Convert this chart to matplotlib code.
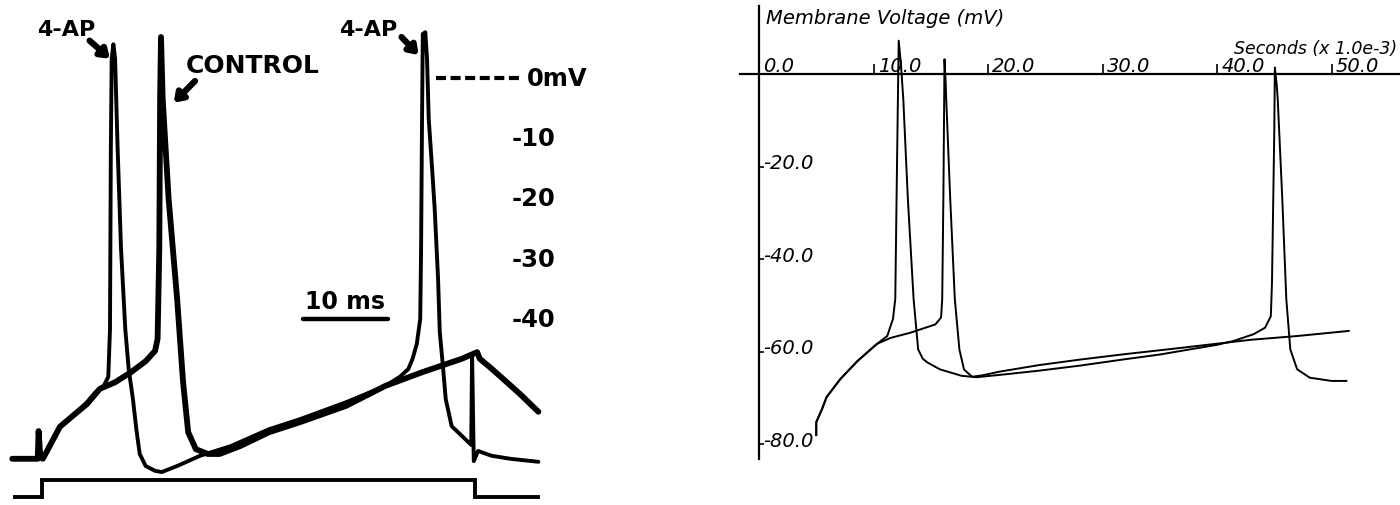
import matplotlib
matplotlib.use("Agg")
import matplotlib.pyplot as plt

# ---------------- Left panel: recorded traces (ms, mV) ----------------
ctrl_t = [-3.5, -0.5, -0.4, -0.2, 0.1, 0.9, 2.1, 3.6, 5.3, 6.8, 8.6, 10.5, 12.2, 13.3, 13.6,
          13.8, 13.9, 14.0, 14.2, 14.9, 15.9, 16.6, 17.2, 18.1, 19.5, 20.9, 23.3, 26.7, 30.4,
          35.8, 40.4, 44.8, 49.4, 51.2, 51.5, 52.7, 53.9, 56.2, 58.4]
ctrl_v = [-63.2, -63.2, -58.6, -62.9, -63.2, -61.1, -57.9, -56.1, -54.1, -51.6, -50.5, -48.8,
          -47.0, -45.3, -43.3, -28.4, -3.5, 6.8, -3.5, -20.1, -36.7, -50.5, -58.8, -61.6, -62.4,
          -62.4, -61.1, -58.8, -57.1, -54.4, -51.1, -48.8, -46.6, -45.5, -46.6, -48.0, -49.5,
          -52.4, -55.4]

ap_t = [-3.5, -0.5, -0.4, -0.2, 0.1, 0.9, 2.1, 3.6, 5.3, 6.2, 7.3, 7.8, 8.0, 8.1, 8.2, 8.4,
        8.6, 8.9, 9.3, 9.8, 10.2, 10.7, 11.1, 11.5, 12.2, 13.3, 14.1, 15.9, 18.6, 22.2, 26.7,
        30.4, 35.8, 40.4, 42.1, 43.1, 43.6, 44.1, 44.5, 44.6, 44.7, 44.8, 45.1, 45.3, 45.5,
        45.9, 46.2, 46.6, 46.8, 47.2, 47.5, 48.2, 49.4, 50.5, 50.6, 50.8, 51.3, 52.9, 55.1, 58.4]
ap_v = [-63.2, -63.2, -58.6, -62.9, -63.2, -61.1, -57.9, -56.1, -53.8, -52.3, -51.0, -49.6,
        -41.7, -11.8, 3.2, 5.6, 3.2, -11.8, -28.4, -41.7, -48.3, -53.3, -58.3, -62.4, -64.4,
        -65.2, -65.4, -64.4, -62.7, -61.1, -58.3, -56.6, -53.8, -51.1, -49.6, -48.3, -46.6,
        -44.1, -40.0, -28.4, -9.0, 7.3, 7.6, 3.2, -6.8, -15.1, -21.7, -33.4, -42.2, -48.3,
        -53.3, -57.8, -59.4, -60.9, -45.8, -63.6, -61.9, -62.7, -63.2, -63.7]

stim_t = [-3.2, 0.0, 0.0, 51.0, 51.0, 58.4]
stim_v = [-69.6, -69.6, -66.8, -66.8, -69.6, -69.6]

volt_labels = [-10, -20, -30, -40]
scale_bar = [30.7, 40.7]   # 10 ms

# ---------------- Right panel: simulation (ms, mV) ----------------
sim_ap_t = [5.0, 5.0, 5.5, 5.9, 7.1, 8.6, 10.3, 11.2, 11.7, 11.9, 12.05, 12.2, 12.4, 12.6,
            13.0, 13.5, 13.9, 14.3, 14.7, 15.8, 17.7, 19.0, 21.0, 24.4, 28.0, 32.0, 35.0,
            37.6, 40.0, 41.4, 43.2, 44.2, 44.7, 44.8, 45.0, 45.05, 45.2, 45.3, 45.7, 46.05,
            46.4, 47.0, 48.1, 50.0, 51.3]
sim_ap_v = [-78.0, -75.2, -72.4, -69.8, -65.9, -62.0, -58.3, -56.6, -52.9, -48.6, -20.0, 7.2,
            2.0, -5.4, -27.0, -48.6, -59.5, -61.5, -62.3, -63.8, -65.2, -65.5, -65.0, -64.1,
            -63.0, -61.6, -60.6, -59.5, -58.5, -57.7, -56.2, -54.8, -52.3, -45.0, -12.6, 1.4,
            -2.0, -5.4, -27.0, -48.6, -59.5, -63.8, -65.6, -66.3, -66.3]

sim_ctrl_t = [5.0, 5.0, 5.5, 5.9, 7.1, 8.6, 10.3, 11.5, 13.2, 15.4, 15.9, 16.0, 16.1, 16.2,
              16.3, 16.35, 16.7, 17.1, 17.5, 17.9, 18.6, 19.5, 21.0, 24.4, 28.0, 32.0, 36.0,
              39.5, 43.0, 47.0, 51.5]
sim_ctrl_v = [-78.0, -75.2, -72.4, -69.8, -65.9, -62.0, -58.3, -57.0, -55.9, -54.1, -52.6,
              -48.6, -27.0, 3.2, -1.8, -5.4, -27.0, -48.6, -59.5, -63.8, -65.4, -65.1, -64.3,
              -62.9, -61.7, -60.5, -59.4, -58.4, -57.4, -56.6, -55.5]

sim_xticks = [0, 10, 20, 30, 40, 50]
sim_yticks = [-20, -40, -60, -80]

# ---------------- Figure ----------------
fig = plt.figure(figsize=(14, 5.06), dpi=100)
fig.patch.set_facecolor("white")

axL = fig.add_axes([0, 0, 600 / 1400, 1])
axL.set_xlim(-4.94, 65.65)
axL.set_ylim(-70.87, 13.11)
axL.axis("off")

kw = dict(color="black", solid_joinstyle="round", solid_capstyle="round")
axL.plot(ctrl_t, ctrl_v, lw=4.2, **kw)
axL.plot(ap_t, ap_v, lw=2.8, **kw)
axL.plot(stim_t, stim_v, lw=2.8, color="black", solid_joinstyle="miter")

bold = dict(fontfamily="DejaVu Sans", fontweight="bold", color="black")
axL.text(2.8, 8.1, "4-AP", ha="center", va="center", fontsize=16, **bold)
axL.text(38.4, 8.1, "4-AP", ha="center", va="center", fontsize=16, **bold)
axL.text(24.8, 2.2, "CONTROL", ha="center", va="center", fontsize=18, **bold)

arrow = dict(arrowstyle="-|>,head_length=0.5,head_width=0.35", lw=4.5, color="black",
             shrinkA=0, shrinkB=0)
axL.annotate("", xy=(8.0, 3.2), xytext=(5.6, 6.2), arrowprops=arrow)
axL.annotate("", xy=(44.3, 3.8), xytext=(42.3, 6.8), arrowprops=arrow)
axL.annotate("", xy=(15.5, -4.1), xytext=(18.0, -0.5), arrowprops=arrow)

axL.plot([46.4, 56.2], [0, 0], color="black", lw=3, ls=(0, (2.4, 1.1)))
axL.text(57.1, 0, "0mV", ha="left", va="center", fontsize=17.5, **bold)
for v in volt_labels:
    axL.text(55.3, v, f"-{abs(v)}", ha="left", va="center", fontsize=17.5, **bold)

axL.plot(scale_bar, [-40, -40], color="black", lw=3.2, solid_capstyle="round")
axL.text(sum(scale_bar) / 2, -37.0, "10 ms", ha="center", va="center", fontsize=17, **bold)

# ---------------- Right panel ----------------
axR = fig.add_axes([740 / 1400, 0, 660 / 1400, 1])
axR.set_xlim(-1.66, 55.98)
axR.set_ylim(-93.1, 16.2)
axR.set_facecolor("none")
for s in ("top", "right"):
    axR.spines[s].set_visible(False)
axR.spines["left"].set_position(("data", 0))
axR.spines["left"].set_bounds(-83.2, 14.7)
axR.spines["bottom"].set_position(("data", 0))
for s in ("left", "bottom"):
    axR.spines[s].set_linewidth(1.6)

axR.set_xticks(sim_xticks)
axR.set_yticks(sim_yticks)
axR.tick_params(axis="x", direction="in", length=7, width=1.2, labelbottom=False)
axR.tick_params(axis="y", direction="in", length=3.5, width=1.2, labelleft=False)

axR.plot(sim_ap_t, sim_ap_v, color="black", lw=1.4, solid_joinstyle="round")
axR.plot(sim_ctrl_t, sim_ctrl_v, color="black", lw=1.4, solid_joinstyle="round")

it = dict(fontfamily="DejaVu Sans", style="italic", color="black", fontsize=14)
for t in sim_xticks:
    axR.annotate(f"{t:.1f}", (t, 0), xytext=(3, 2.5), textcoords="offset points",
                 ha="left", va="baseline", **it)
for v in sim_yticks:
    axR.annotate(f"-{abs(v):.1f}", (0, v), xytext=(3, -1), textcoords="offset points",
                 ha="left", va="baseline", **it)

axR.text(0.6, 12.3, "Membrane Voltage (mV)", ha="left", va="center", **it)
axR.text(55.7, 5.6, "Seconds (x 1.0e-3)", ha="right", va="center",
         fontfamily="DejaVu Sans", style="italic", color="black", fontsize=12.5)

fig.savefig("out.png", dpi=100, facecolor="white")
